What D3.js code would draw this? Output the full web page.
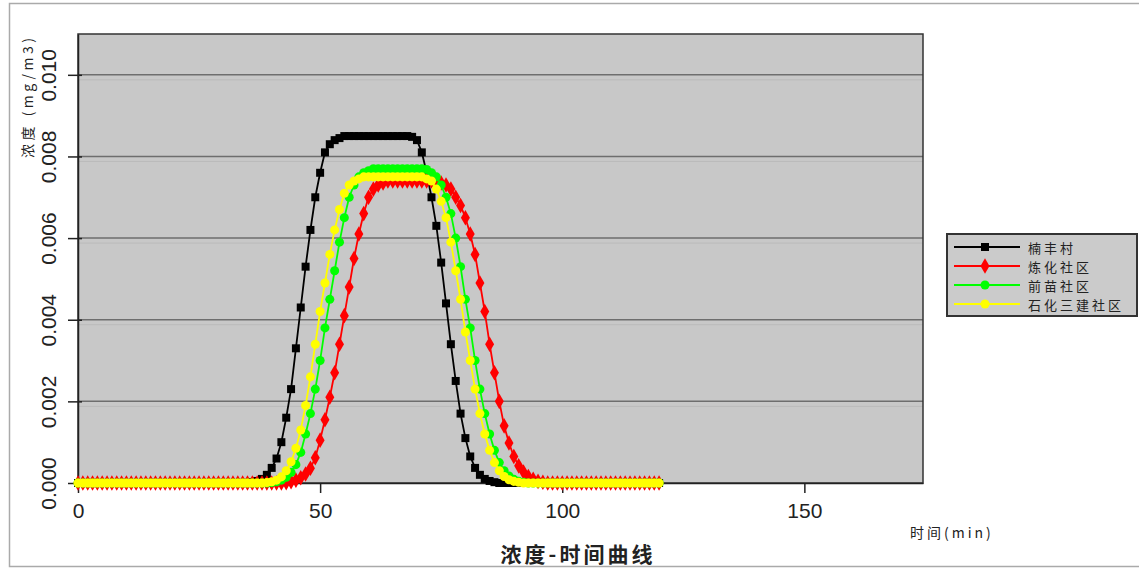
<!DOCTYPE html>
<html>
<head>
<meta charset="utf-8">
<script src="https://cdn.jsdelivr.net/npm/d3@7"></script>
<style>
    body { margin: 0; background: #fff; }
    svg { display: block; }
    .tick-label { font-family: "Liberation Sans", Arial, sans-serif; font-size: 21px; fill: #222; }
    .cn { font-family: "Noto Sans CJK SC", sans-serif; fill: #222; }
</style>
</head>
<body>
<svg id="chart" width="1139" height="570" viewBox="0 0 1139 570"></svg>
<script>
// Time axis (min), one sample per minute
const times = d3.range(0, 121);

const series_names = ["楠丰村", "炼化社区", "前苗社区", "石化三建社区"];

const nanfeng = [
    0, 0, 0, 0, 0, 0, 0, 0, 0, 0,
    0, 0, 0, 0, 0, 0, 0, 0, 0, 0,
    0, 0, 0, 0, 0, 0, 0, 0, 0, 0,
    0, 0, 0, 0, 0, 0, 0.00002, 0.00005, 0.0001, 0.0002,
    0.00037, 0.0006, 0.001, 0.0016, 0.0023, 0.0033, 0.0043, 0.0053, 0.0062, 0.007,
    0.0076, 0.0081, 0.0083, 0.0084, 0.00845, 0.0085, 0.0085, 0.0085, 0.0085, 0.0085,
    0.0085, 0.0085, 0.0085, 0.0085, 0.0085, 0.0085, 0.0085, 0.0085, 0.0085, 0.00848,
    0.0084, 0.0081, 0.0076, 0.007, 0.0063, 0.0054, 0.0044, 0.0034, 0.0025, 0.0017,
    0.0011, 0.00065, 0.00037, 0.0002, 0.0001, 0.00005, 0.00002, 0, 0, 0,
    0, 0, 0, 0, 0, 0, 0, 0, 0, 0,
    0, 0, 0, 0, 0, 0, 0, 0, 0, 0,
    0, 0, 0, 0, 0, 0, 0, 0, 0, 0,
    0
];

const lianhua = [
    0, 0, 0, 0, 0, 0, 0, 0, 0, 0,
    0, 0, 0, 0, 0, 0, 0, 0, 0, 0,
    0, 0, 0, 0, 0, 0, 0, 0, 0, 0,
    0, 0, 0, 0, 0, 0, 0, 0, 0, 0,
    0, 0, 0, 0.00001, 0.00003, 0.00007, 0.00013, 0.00022, 0.00036, 0.00062,
    0.00105, 0.00155, 0.0021, 0.0027, 0.0034, 0.0041, 0.0048, 0.0055, 0.0061, 0.0066,
    0.007, 0.0072, 0.0073, 0.00735, 0.0074, 0.0074, 0.0074, 0.0074, 0.0074, 0.0074,
    0.0074, 0.0074, 0.0074, 0.0074, 0.00738, 0.00735, 0.0073, 0.0072, 0.007, 0.0068,
    0.0065, 0.0061, 0.0056, 0.0049, 0.0042, 0.0034, 0.0027, 0.002, 0.0014, 0.00098,
    0.00065, 0.00042, 0.00027, 0.00016, 0.00009, 0.00004, 0.00002, 0, 0, 0,
    0, 0, 0, 0, 0, 0, 0, 0, 0, 0,
    0, 0, 0, 0, 0, 0, 0, 0, 0, 0,
    0
];

const qianmiao = [
    0, 0, 0, 0, 0, 0, 0, 0, 0, 0,
    0, 0, 0, 0, 0, 0, 0, 0, 0, 0,
    0, 0, 0, 0, 0, 0, 0, 0, 0, 0,
    0, 0, 0, 0, 0, 0, 0, 0, 0, 0,
    0.00001, 0.00003, 0.00007, 0.00014, 0.00026, 0.00045, 0.00075, 0.0012, 0.0017, 0.0023,
    0.003, 0.0038, 0.0045, 0.0052, 0.0059, 0.0065, 0.007, 0.0073, 0.0075, 0.0076,
    0.00765, 0.0077, 0.0077, 0.0077, 0.0077, 0.0077, 0.0077, 0.0077, 0.0077, 0.0077,
    0.0077, 0.0077, 0.00768, 0.0076, 0.0075, 0.0073, 0.007, 0.0066, 0.006, 0.0053,
    0.0045, 0.0038, 0.003, 0.0023, 0.0017, 0.0012, 0.0008, 0.0005, 0.0003, 0.00017,
    0.00009, 0.00004, 0.00002, 0, 0, 0, 0, 0, 0, 0,
    0, 0, 0, 0, 0, 0, 0, 0, 0, 0,
    0, 0, 0, 0, 0, 0, 0, 0, 0, 0,
    0
];

const shihua = [
    0, 0, 0, 0, 0, 0, 0, 0, 0, 0,
    0, 0, 0, 0, 0, 0, 0, 0, 0, 0,
    0, 0, 0, 0, 0, 0, 0, 0, 0, 0,
    0, 0, 0, 0, 0, 0, 0, 0, 0, 0.00001,
    0.00003, 0.00007, 0.00015, 0.0003, 0.00052, 0.00085, 0.0013, 0.0019, 0.0026, 0.0034,
    0.0042, 0.0049, 0.0056, 0.0062, 0.0067, 0.0071, 0.0073, 0.0074, 0.00745, 0.0075,
    0.0075, 0.0075, 0.0075, 0.0075, 0.0075, 0.0075, 0.0075, 0.0075, 0.0075, 0.0075,
    0.0075, 0.0075, 0.00745, 0.0074, 0.0072, 0.0069, 0.0065, 0.0059, 0.0052, 0.0045,
    0.0037, 0.003, 0.0023, 0.0017, 0.0012, 0.0008, 0.0005, 0.0003, 0.00016, 0.00008,
    0.00004, 0.00002, 0, 0, 0, 0, 0, 0, 0, 0,
    0, 0, 0, 0, 0, 0, 0, 0, 0, 0,
    0, 0, 0, 0, 0, 0, 0, 0, 0, 0,
    0
];

const x_ticks = [0, 50, 100, 150];
const y_ticks = [0, 0.002, 0.004, 0.006, 0.008, 0.010];

const series_values = [nanfeng, lianhua, qianmiao, shihua];
const series_colors = ["#000000", "#ff0000", "#00ff00", "#ffff00"];
const series_symbols = [d3.symbolSquare, d3.symbolDiamond, d3.symbolCircle, d3.symbolCircle];
const series_sizes = [64, 70, 64, 64];

const svg = d3.select('#chart');

// Chart frame
svg.append('rect')
    .attr('x', 9.5).attr('y', 3.5)
    .attr('width', 1140).attr('height', 563)
    .attr('fill', 'none').attr('stroke', '#aaa').attr('stroke-width', 1.5);

const plot_left = 78, plot_right = 923, plot_top = 34, plot_bottom = 483;

const x_scale = d3.scaleLinear().domain([0, 174.5]).range([plot_left, plot_right]);
const y_scale = d3.scaleLinear().domain([0, 0.011]).range([plot_bottom, plot_top]);

// Plot area
svg.append('rect')
    .attr('x', plot_left).attr('y', plot_top)
    .attr('width', plot_right - plot_left).attr('height', plot_bottom - plot_top)
    .attr('fill', '#c8c8c8');

// Gridlines
const grid = svg.append('g');
grid.selectAll('line.soft')
    .data(y_ticks.slice(1))
    .enter()
    .append('line')
    .attr('x1', plot_left).attr('x2', plot_right)
    .attr('y1', d => y_scale(d) + 5).attr('y2', d => y_scale(d) + 5)
    .attr('stroke', '#bababa').attr('stroke-width', 1);
grid.selectAll('line.major')
    .data(y_ticks.slice(1))
    .enter()
    .append('line')
    .attr('x1', plot_left).attr('x2', plot_right)
    .attr('y1', d => y_scale(d)).attr('y2', d => y_scale(d))
    .attr('stroke', '#6e6e6e').attr('stroke-width', 1.5);

// Plot border
svg.append('rect')
    .attr('x', plot_left).attr('y', plot_top)
    .attr('width', plot_right - plot_left).attr('height', plot_bottom - plot_top)
    .attr('fill', 'none').attr('stroke', '#333').attr('stroke-width', 1.5);

// Axes
const x_axis = d3.axisBottom(x_scale).tickValues(x_ticks).tickSizeInner(10).tickSizeOuter(0).tickFormat(d3.format('d'));
const gx = svg.append('g')
    .attr('transform', 'translate(0,' + plot_bottom + ')')
    .call(x_axis);
gx.select('.domain').attr('stroke', '#222').attr('stroke-width', 1.5);
gx.selectAll('.tick line').attr('stroke', '#222').attr('stroke-width', 1.5);
gx.selectAll('.tick text')
    .attr('class', 'tick-label')
    .attr('y', 20);

const y_axis = d3.axisLeft(y_scale).tickValues(y_ticks).tickSizeInner(10).tickSizeOuter(0).tickFormat(d3.format('.3f'));
const gy = svg.append('g')
    .attr('transform', 'translate(' + plot_left + ',0)')
    .call(y_axis);
gy.select('.domain').attr('stroke', '#222').attr('stroke-width', 1.5);
gy.selectAll('.tick line').attr('x1', 4).attr('stroke', '#222').attr('stroke-width', 1.5);
gy.selectAll('.tick text')
    .attr('class', 'tick-label')
    .attr('x', null).attr('dy', null)
    .attr('text-anchor', 'middle')
    .attr('dominant-baseline', 'central')
    .attr('transform', 'translate(-30,0) rotate(-90)');
gx.attr('font-size', null).attr('font-family', null);
gy.attr('font-size', null).attr('font-family', null);

// Series lines and markers
const line = d3.line()
    .x((d, i) => x_scale(times[i]))
    .y(d => y_scale(d));

series_values.forEach((values, k) => {
    const g = svg.append('g');
    g.append('path')
        .datum(values)
        .attr('d', line)
        .attr('fill', 'none')
        .attr('stroke', series_colors[k])
        .attr('stroke-width', 1.8);
    g.selectAll('path.marker')
        .data(values)
        .enter()
        .append('path')
        .attr('class', 'marker')
        .attr('d', d3.symbol().type(series_symbols[k]).size(series_sizes[k]))
        .attr('transform', (d, i) => 'translate(' + x_scale(times[i]) + ',' + y_scale(d) + ')')
        .attr('fill', series_colors[k]);
});

// Axis titles
svg.append('text')
    .attr('class', 'cn')
    .attr('transform', 'translate(27,158) rotate(-90)')
    .attr('font-size', 14)
    .attr('letter-spacing', 3.5)
    .attr('dominant-baseline', 'central')
    .text('浓度 (mg/m3)');

svg.append('text')
    .attr('class', 'cn')
    .attr('x', 910).attr('y', 538)
    .attr('font-size', 14)
    .attr('letter-spacing', 3)
    .text('时间(min)');

svg.append('text')
    .attr('class', 'cn')
    .attr('x', 578).attr('y', 562)
    .attr('text-anchor', 'middle')
    .attr('font-size', 21)
    .attr('font-weight', 'bold')
    .attr('letter-spacing', 3)
    .text('浓度-时间曲线');

// Legend
const legend = svg.append('g');
legend.append('rect')
    .attr('x', 947).attr('y', 234)
    .attr('width', 190).attr('height', 82)
    .attr('fill', '#cbcbcb')
    .attr('stroke', '#333').attr('stroke-width', 2);

const legend_rows = legend.selectAll('g.row')
    .data(series_names)
    .enter()
    .append('g')
    .attr('transform', (d, i) => 'translate(0,' + (247 + i * 19) + ')');
legend_rows.append('line')
    .attr('x1', 954).attr('x2', 1020)
    .attr('stroke', (d, i) => series_colors[i])
    .attr('stroke-width', 1.8);
legend_rows.append('path')
    .attr('d', (d, i) => d3.symbol().type(series_symbols[i]).size(series_sizes[i])())
    .attr('transform', 'translate(985,0)')
    .attr('fill', (d, i) => series_colors[i]);
legend_rows.append('text')
    .attr('class', 'cn')
    .attr('x', 1028)
    .attr('dominant-baseline', 'central')
    .attr('font-size', 13)
    .attr('letter-spacing', 3)
    .text(d => d);
</script>
</body>
</html>
